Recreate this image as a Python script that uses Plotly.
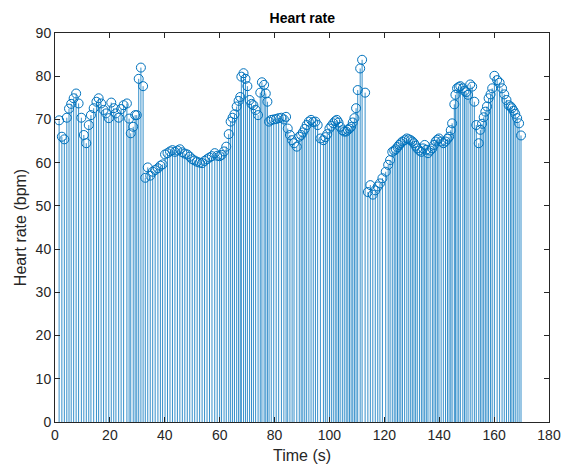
import plotly.graph_objects as go

# Beat times (s) and instantaneous heart rate (bpm)
beat_time = [
    1.5, 2.5, 3.4, 4.3, 5.1, 5.9, 6.8, 7.7, 8.6, 9.6, 10.5, 11.4, 12.3, 13.1, 14.1,
    15.1, 15.9, 16.8, 17.7, 18.6, 19.6, 20.5, 21.4, 22.2, 23.2, 24.1, 25.0, 26.2,
    27.0, 27.6, 28.5, 29.2, 29.8, 30.5, 31.3, 32.1,
    32.9, 33.8, 34.7, 35.6, 36.5, 37.5, 38.4, 39.2, 40.1, 41.0, 41.9, 42.8, 43.7,
    44.6, 45.5, 46.4, 47.3, 48.2, 49.1, 50.0, 50.9, 51.8, 52.7, 53.6, 54.5, 55.4,
    56.3, 57.2, 58.2, 59.1, 60.0, 60.7, 61.6, 62.4, 63.3, 64.0, 64.7, 65.4, 66.2,
    66.9, 67.5, 67.9, 68.7, 69.4, 70.1, 70.9, 71.6, 72.3, 73.1, 74.0, 74.8, 75.4,
    76.2, 76.8, 77.4, 78.0, 78.8, 79.7, 80.6, 81.5, 82.5, 83.4, 84.2, 84.8, 85.6,
    86.4, 87.1, 88.1, 89.0, 89.7, 90.3, 91.0, 91.7, 92.5, 93.3, 94.1, 94.9, 95.7,
    96.7, 97.8, 98.5, 99.2, 100.0, 100.7, 101.4, 102.1, 102.7, 103.3, 103.9, 104.7,
    105.4, 106.1, 106.7, 107.3, 107.9, 108.5, 109.1, 109.7, 110.3, 111.2, 111.9,
    113.0,
    114.0, 114.9, 115.8, 116.7, 117.6, 118.4, 119.3, 120.5, 121.4, 122.1, 122.9,
    123.6, 124.2, 124.8, 125.4, 126.0, 126.6, 127.4, 128.2, 128.9, 129.6, 130.2,
    130.8, 131.4, 132.0, 132.8, 133.5, 134.1, 134.7, 135.3, 135.9, 136.7, 137.5,
    138.1, 138.7, 139.3, 139.9, 140.7, 141.5, 142.3, 143.0, 143.6, 144.2, 144.7,
    145.5, 145.9, 146.5, 147.1, 147.7, 148.6, 149.2, 149.8, 150.5, 151.3, 152.0,
    152.8, 153.5, 154.4, 155.0, 155.6, 156.2, 156.8, 157.4, 158.0, 158.7, 159.3,
    160.1, 161.1, 162.0, 162.9, 163.7, 164.5, 165.3, 166.0, 166.5, 167.1, 167.7,
    168.4, 169.1, 169.8,
]

heart_rate = [
    69.8, 66.0, 65.4, 70.4, 72.5, 73.6, 74.9, 76.0, 73.7, 70.4, 66.4, 64.5, 68.7, 71.0, 72.6,
    74.1, 74.9, 73.7, 72.2, 71.4, 70.3, 73.9, 72.6, 71.4, 70.4, 72.4, 73.3, 73.7,
    70.2, 66.8, 68.3, 71.0, 71.0, 79.4, 82.0, 77.7,
    56.5, 58.9, 57.0, 57.9, 58.3, 58.7, 59.3, 59.6, 61.9, 62.2, 62.6, 62.9, 62.5,
    62.8, 63.1, 62.4, 62.1, 61.9, 61.4, 60.8, 60.5, 60.2, 60.0, 59.9, 60.4, 60.8,
    61.2, 61.5, 62.2, 61.6, 61.5, 61.8, 62.6, 63.7, 66.6, 69.5, 70.4, 71.2, 73.0,
    74.3, 75.2, 79.9, 80.7, 79.4, 77.7, 74.5, 73.6, 73.3, 72.2, 71.0, 76.2, 78.6,
    78.0, 76.0, 74.1, 69.5, 69.9, 70.0, 70.1, 70.3, 70.4, 70.0, 70.6, 67.9, 66.4,
    65.2, 64.5, 63.7, 66.0, 66.4, 67.0, 67.8, 68.7, 69.5, 69.9, 69.4, 69.5, 68.7,
    65.6, 65.2, 65.9, 66.6, 67.9, 68.5, 69.1, 69.6, 69.9, 69.3, 68.3, 67.5,
    67.2, 67.2, 67.6, 67.9, 68.3, 69.3, 70.3, 72.6, 76.8, 81.8, 83.8,
    76.2,
    53.2, 54.8, 52.6, 53.6, 54.5, 55.2, 56.4, 57.9, 59.5, 60.6, 62.5,
    62.8, 63.1, 63.6, 64.1, 64.5, 64.9, 65.2, 65.6, 65.4, 65.2, 64.9,
    64.5, 63.9, 63.3, 62.8, 62.5, 63.3, 64.1, 63.0, 62.2, 62.8, 63.3,
    64.1, 64.9, 65.3, 65.6, 64.9, 64.5, 64.9, 65.5, 66.0, 67.5, 69.1,
    73.5, 75.7, 77.2, 77.5, 77.7, 77.2, 76.6, 76.3, 75.7, 78.1, 77.6,
    74.1, 68.7, 64.5, 67.6, 69.0, 70.5, 71.8, 73.0, 74.9, 75.8, 77.2,
    80.1, 79.1, 78.5, 77.2, 75.8, 74.5, 73.3, 73.0, 72.6, 72.0, 71.3,
    70.3, 69.1, 66.3,
]

STEM_BLUE = "#0072BD"
AXIS_GRAY = "#262626"
FONT = "Liberation Sans, Arial, sans-serif"

# Stem lines: one segment per beat from the baseline up to its value
stem_x, stem_y = [], []
for t, hr in zip(beat_time, heart_rate):
    stem_x += [t, t, None]
    stem_y += [0, hr, None]

fig = go.Figure()
fig.add_trace(go.Scatter(
    x=stem_x, y=stem_y, mode="lines",
    line=dict(color=STEM_BLUE, width=0.8),
    hoverinfo="skip", showlegend=False,
))
fig.add_trace(go.Scatter(
    x=beat_time, y=heart_rate, mode="markers",
    marker=dict(symbol="circle-open", size=9, color=STEM_BLUE,
                line=dict(color=STEM_BLUE, width=1)),
    showlegend=False,
))

axis_common = dict(
    showgrid=False, zeroline=False, automargin=False,
    showline=True, linecolor=AXIS_GRAY, linewidth=1, mirror="ticks",
    ticks="inside", ticklen=5, tickcolor=AXIS_GRAY, tickwidth=1,
    tickfont=dict(family=FONT, size=14, color=AXIS_GRAY),
)

fig.update_layout(
    width=564, height=468,
    margin=dict(l=55, r=15, t=33, b=46),
    paper_bgcolor="white", plot_bgcolor="white",
    font=dict(family=FONT, color=AXIS_GRAY),
    title=dict(text="<b>Heart rate</b>", x=0.536, xanchor="center",
               y=1 - 18 / 468, yref="container", yanchor="middle",
               font=dict(size=14, color="black")),
    xaxis=dict(range=[0, 180], dtick=20, tick0=0,
               title=dict(text="Time (s)", font=dict(size=16), standoff=8),
               **axis_common),
    yaxis=dict(range=[0, 90], dtick=10, tick0=0,
               title=dict(text="Heart rate (bpm)", font=dict(size=16), standoff=5),
               **axis_common),
)

fig.write_html("out.html")
